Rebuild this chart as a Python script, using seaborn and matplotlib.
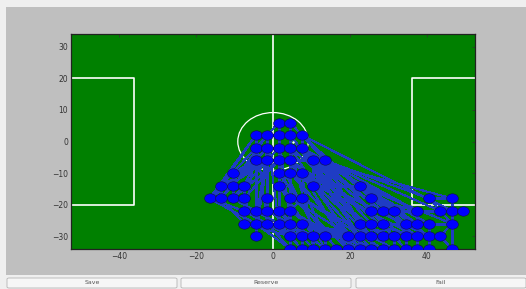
import pandas as pd
import matplotlib.pyplot as plt
import seaborn as sns
from matplotlib.collections import LineCollection
from matplotlib.patches import Rectangle, Circle, FancyBboxPatch
from matplotlib.path import Path
from matplotlib.markers import MarkerStyle
from matplotlib.transforms import Affine2D

sns.set_style('white')
plt.rcParams['font.family'] = ['DejaVu Sans']

row_y = [6, 2, -2, -6, -10, -14, -18, -22, -26, -30, -34]
row_x = [
    [1.5, 4.5],
    [-4.5, -1.5, 1.5, 4.5, 7.5],
    [-4.5, -1.5, 1.5, 4.5, 7.5],
    [-4.5, -1.5, 1.5, 4.5, 10.5, 13.5],
    [-10.5, 1.5, 4.5, 7.5],
    [-13.5, -10.5, -7.5, 1.5, 10.5, 22.5],
    [-16.5, -13.5, -10.5, -7.5, -1.5, 4.5, 7.5, 25.5, 40.5, 46.5],
    [-7.5, -4.5, -1.5, 1.5, 4.5, 25.5, 28.5, 31.5, 37.5, 43.5, 46.5, 49.5],
    [-7.5, -4.5, -1.5, 1.5, 4.5, 7.5, 22.5, 25.5, 28.5, 34.5, 37.5, 40.5, 46.5],
    [-4.5, 4.5, 7.5, 10.5, 13.5, 19.5, 22.5, 25.5, 28.5, 31.5, 34.5, 37.5, 40.5, 43.5],
    [4.5, 7.5, 10.5, 13.5, 16.5, 19.5, 22.5, 25.5, 28.5, 31.5, 34.5, 37.5, 40.5, 46.5],
]

# small white spot near the centre
spot_x = [5.25]
spot_y = [0]

# Connections between nodes (indices into the flattened node list)
edges = [
    # centre cluster
    (0, 1), (0, 4), (1, 5), (0, 3), (1, 6), (2, 3), (3, 4), (4, 5), (5, 6),
    (2, 7), (3, 8), (4, 9), (5, 10), (6, 11), (7, 8), (8, 9), (9, 10), (10, 11),
    (7, 12), (8, 13), (9, 14), (10, 15), (12, 13), (13, 14), (14, 15), (15, 16),
    (16, 17), (14, 19), (15, 20), (19, 20), (20, 21), (11, 16), (12, 18),
    (18, 23), (18, 22), (22, 23), (23, 24), (19, 25), (20, 25), (21, 26),
    (16, 26), (17, 27), (26, 27), (28, 29), (29, 30), (30, 31), (22, 28),
    (22, 29), (23, 30), (24, 31), (31, 38), (38, 39), (39, 40), (40, 41),
    (41, 42), (38, 50), (39, 51), (40, 52), (41, 53), (42, 54), (50, 51),
    (51, 52), (52, 53), (53, 54), (54, 55), (51, 63), (54, 64), (55, 65),
    (64, 65), (32, 40), (33, 42), (34, 42), (33, 34), (25, 33),
    # fan to the left
    (28, 7), (28, 12), (28, 2), (28, 13), (29, 8), (29, 12), (22, 7), (22, 2),
    (22, 13), (23, 8), (18, 3), (18, 7), (30, 13), (30, 14), (24, 12), (24, 9),
    (31, 14), (29, 3), (28, 38), (29, 50), (30, 39), (28, 51),
    # down the middle
    (12, 39), (13, 40), (14, 41), (15, 42), (7, 50), (8, 51), (2, 52), (3, 53),
    (4, 54), (13, 51), (14, 53), (9, 41), (10, 42), (12, 63), (13, 63),
    (19, 41), (20, 42),
    # long runs to the right
    (10, 66), (10, 68), (11, 69), (11, 70), (15, 67), (15, 71), (16, 43),
    (16, 44), (16, 57), (17, 56), (17, 45), (17, 58), (6, 35), (6, 43),
    (5, 56), (5, 69), (11, 44), (11, 57), (20, 64), (20, 68), (21, 70),
    (21, 79), (21, 82), (26, 83), (26, 84), (26, 71), (17, 59), (16, 46),
    (11, 46), (10, 72), (15, 73), (20, 74), (21, 75), (14, 80), (19, 81),
    (25, 82), (25, 66), (34, 85), (34, 86), (33, 84), (42, 83), (42, 67),
    (41, 79), (41, 80), (54, 68), (54, 69), (55, 70), (55, 84), (53, 66),
    (53, 78), (52, 77), (52, 65), (50, 64), (51, 77), (38, 64), (39, 65),
    (40, 66), (17, 47), (17, 36), (16, 37), (6, 48), (17, 60), (27, 61),
    (27, 62), (27, 75), (35, 46), (35, 60),
    # right side
    (27, 35), (35, 43), (43, 44), (44, 45), (45, 46), (46, 47), (47, 48),
    (48, 49), (36, 47), (37, 48), (36, 37), (48, 62), (47, 62), (46, 60),
    (60, 61), (59, 60), (58, 59), (57, 58), (56, 57), (56, 69), (57, 70),
    (58, 71), (59, 73), (60, 74), (61, 75), (62, 76), (61, 62), (69, 70),
    (70, 71), (71, 72), (72, 73), (73, 74), (74, 75), (75, 76), (68, 69),
    (67, 68), (66, 67), (65, 66), (64, 77), (65, 78), (66, 79), (67, 80),
    (68, 82), (69, 83), (70, 84), (71, 85), (72, 86), (73, 87), (74, 88),
    (75, 89), (76, 90), (62, 90), (37, 62), (77, 78), (78, 79), (79, 80),
    (80, 81), (81, 82), (82, 83), (83, 84), (84, 85), (85, 86), (86, 87),
    (87, 88), (88, 89), (43, 72), (44, 74), (45, 75), (56, 72), (57, 74),
    (35, 59), (45, 73), (58, 87),
]

button_labels = ['Save', 'Reserve', 'Fail']

nodes = pd.DataFrame(
    [(x, y) for y, xs in zip(row_y, row_x) for x in xs], columns=['x', 'y'])

fig = plt.figure(figsize=(5.26, 2.89), dpi=100, facecolor='#efefef')

# grey canvas area of the window
fig.patches.append(Rectangle((6 / 526, 14 / 289), 520 / 526, 268 / 289,
                             transform=fig.transFigure, facecolor='#bfbfbf',
                             edgecolor='none', zorder=-5))

ax = fig.add_axes([71 / 526, 40 / 289, 404 / 526, 215 / 289])
ax.set_zorder(5)
ax.set_facecolor('#008000')

# pitch markings
lw = 1.2
ax.axvline(0, color='white', lw=lw, zorder=1)
ax.plot([-52.5, -36, -36, -52.5], [20, 20, -20, -20], color='white', lw=lw, zorder=1)
ax.plot([52.5, 36, 36, 52.5], [20, 20, -20, -20], color='white', lw=lw, zorder=1)
ax.add_patch(Circle((0, 0), 9.15, fill=False, edgecolor='white', lw=0.9, zorder=1))

# edges
pts = nodes[['x', 'y']].to_numpy()
segs = [[pts[a], pts[b]] for a, b in edges]
ax.add_collection(LineCollection(segs, colors='#1f3cc4', linewidths=0.75,
                                 antialiaseds=False, zorder=2))

# nodes, slightly wider than tall like in the picture
ell = Path.unit_circle().transformed(Affine2D().scale(1.25, 1.0))
sns.scatterplot(data=nodes, x='x', y='y', marker=MarkerStyle(ell), s=72,
                color='#0000ff', edgecolor='#101040', linewidth=0.4,
                ax=ax, zorder=3, legend=False)
ax.scatter(spot_x, spot_y, s=3, color='white', zorder=4, linewidths=0)

ax.set_xlim(-52.5, 52.5)
ax.set_ylim(-34, 34)
ax.set_xticks([-40, -20, 0, 20, 40])
ax.set_yticks([-30, -20, -10, 0, 10, 20, 30])
ax.set_xlabel('')
ax.set_ylabel('')
ax.tick_params(direction='in', length=2.5, width=0.5, labelsize=5.5,
               colors='#333333', top=True, right=True, pad=2)
for s in ax.spines.values():
    s.set_color('#222222')
    s.set_linewidth(0.9)

# buttons along the bottom
bx = [7, 181, 356]
bw = 170
for x0, lab in zip(bx, button_labels):
    fig.patches.append(FancyBboxPatch((x0 / 526, 1 / 289), bw / 526, 10 / 289,
                                      boxstyle='round,pad=0,rounding_size=0.004',
                                      transform=fig.transFigure,
                                      facecolor='#f6f6f6', edgecolor='#b4b4b4',
                                      lw=0.6, zorder=1))
    fig.text((x0 + bw / 2) / 526, 6 / 289, lab, ha='center', va='center',
             fontsize=4.5, color='#555555')

fig.savefig('out.png', dpi=100, facecolor=fig.get_facecolor())
